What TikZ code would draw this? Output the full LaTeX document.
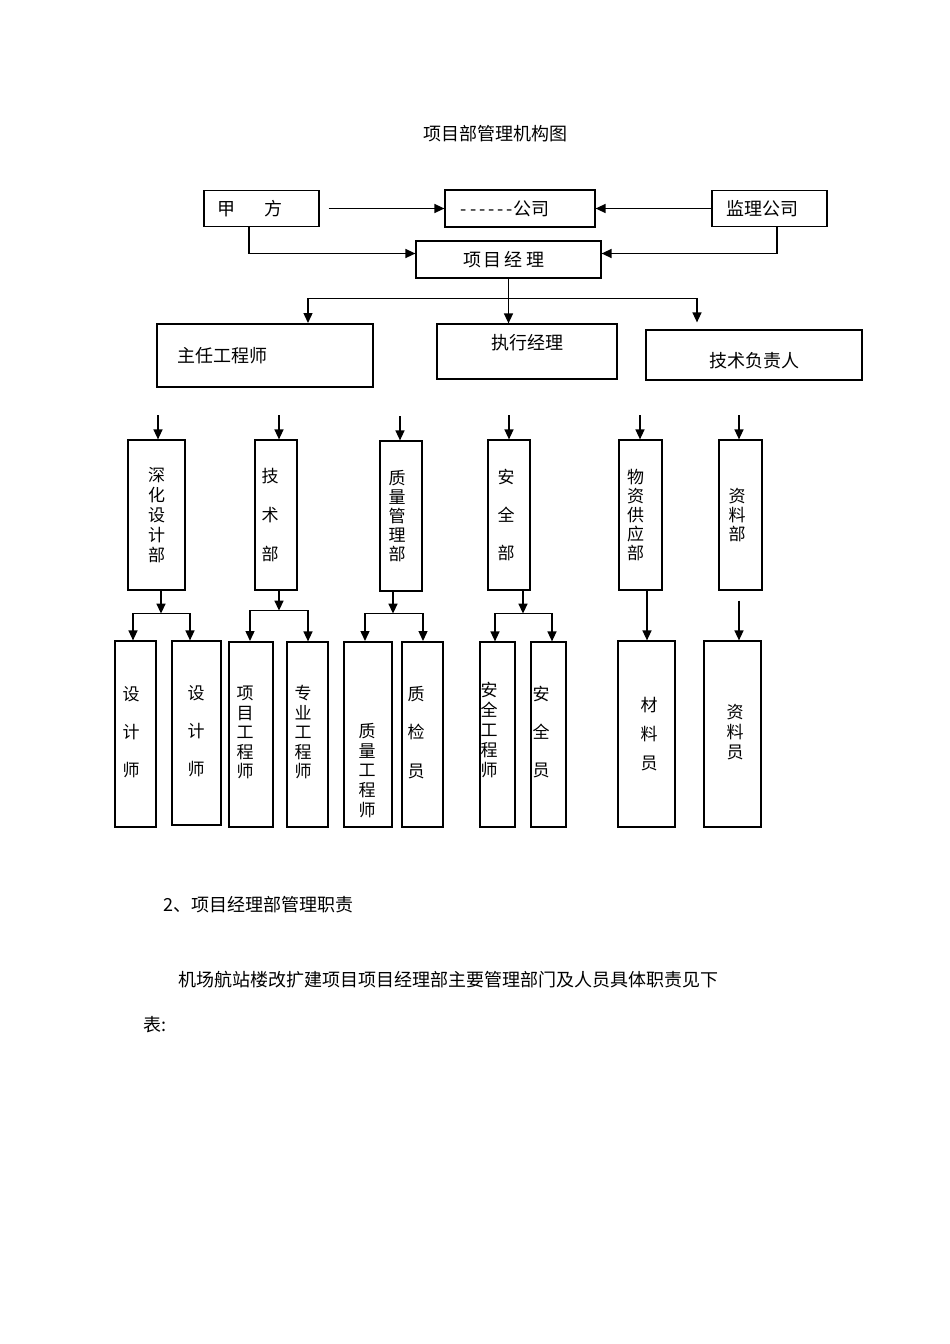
\documentclass[tikz,border=0pt]{standalone}
\usepackage{fontspec}
\setmainfont{Noto Sans CJK SC}
\usetikzlibrary{arrows.meta, positioning}

\tikzset{
  box/.style={rectangle, draw, line width=1.2pt, inner sep=0pt},
  boldbox/.style={box, line width=2pt},
  arr/.style={-{Triangle[length=10pt,width=9pt]}, line width=1.4pt},
  ln/.style={line width=1.4pt},
  hz/.style={font=\fontsize{18}{20}\selectfont},
  vt/.style={align=center, font=\fontsize{17}{#1}\selectfont},
  para/.style={font=\fontsize{18}{20}\selectfont, anchor=west, inner sep=0pt},
}

\begin{document}
\begin{tikzpicture}[x=1pt, y=-1pt]
\useasboundingbox (0,0) rectangle (950,1344);

% title
\node[hz] (title) at (495,134) {项目部管理机构图};

% top row
\node[box, minimum width=115, minimum height=36, label={[hz, xshift=-11.5pt]center:甲\hspace{30pt}方}] (jiafang) at (261.5,208.5) {};
\node[box, minimum width=150, minimum height=37, label={[hz, xshift=-15pt]center:-\,-\,-\,-\,-\,-公司}] (gongsi) at (520,208.5) {};
\node[box, minimum width=115, minimum height=36, label={[hz, xshift=-7pt]center:监理公司}] (jianli) at (769.5,208.5) {};
\node[box, minimum width=185, minimum height=37, label={[hz, xshift=-5pt]center:项\,目\,经\,理}] (xmjl) at (508.5,259.5) {};

\draw[arr, shorten <=9pt] (jiafang) -- (gongsi);
\draw[arr] (jianli) -- (gongsi);
\draw[arr] ([xshift=-12.5pt]jiafang.south) |- ([yshift=6pt]xmjl.west);
\draw[arr] ([xshift=7.5pt]jianli.south) |- ([yshift=6pt]xmjl.east);

% second row
\node[boldbox, minimum width=216, minimum height=63, label={[hz, xshift=-43pt]center:主任工程师}] (zrgcs) at (265,355.5) {};
\node[box, minimum width=180, minimum height=55, label={[hz, yshift=8.5pt]center:执行经理}] (zxjl) at (527,351.5) {};
\node[box, minimum width=216, minimum height=50, label={[hz, yshift=-6pt]center:技术负责人}] (jsfzr) at (754,355) {};

\path (xmjl.south) ++(0,20) coordinate (bus);
\draw[arr] (xmjl.south) -- (xmjl.south |- zxjl.north);
\draw[arr] (bus) -| ([xshift=43pt]zrgcs.north);
\draw[arr, shorten >=7pt] (bus) -| ([xshift=-57pt]jsfzr.north);

% departments
\node[box, minimum width=57, minimum height=150, label={[vt=20]center:深\\化\\设\\计\\部}] (sh) at (156.5,515) {};
\node[box, minimum width=42, minimum height=150, label={[vt=39, xshift=-6pt]center:技\\术\\部}] (js) at (276,515) {};
\node[box, minimum width=42, minimum height=150, label={[vt=19, xshift=-4pt]center:质\\量\\管\\理\\部}] (zl) at (401,516) {};
\node[box, minimum width=42, minimum height=150, label={[vt=38, xshift=-3pt]center:安\\全\\部}] (aq) at (509,515) {};
\node[box, minimum width=43, minimum height=150, label={[vt=19, xshift=-5pt]center:物\\资\\供\\应\\部}] (wz) at (640.5,515) {};
\node[box, minimum width=43, minimum height=150, label={[vt=19, xshift=-3.5pt]center:资\\料\\部}] (zlb) at (740.5,515) {};

\foreach \d/\s in {sh/1.5, js/3, zl/-1, aq/0, wz/-0.5, zlb/-1.5}
  \draw[arr] ([xshift=\s pt, yshift=24pt]\d.north) -- ([xshift=\s pt]\d.north);

% staff
\node[box, minimum width=41, minimum height=186, label={[vt=38, xshift=-4.5pt, yshift=2pt]center:设\\计\\师}] (sj1) at (135.5,734) {};
\node[box, minimum width=49, minimum height=184, label={[vt=38, xshift=-0.5pt, yshift=2pt]center:设\\计\\师}] (sj2) at (196.5,733) {};
\node[boldbox, minimum width=44, minimum height=185, label={[vt=19.5, xshift=-6pt, yshift=2pt]center:项\\目\\工\\程\\师}] (xmgcs) at (251,734.5) {};
\node[box, minimum width=41, minimum height=185, label={[vt=19.5, xshift=-4.5pt, yshift=2pt]center:专\\业\\工\\程\\师}] (zygcs) at (307.5,734.5) {};
\node[boldbox, minimum width=48, minimum height=185, label={[vt=19.75, xshift=-1pt, yshift=-36pt]center:质\\量\\工\\程\\师}] (zlgcs) at (368,734.5) {};
\node[boldbox, minimum width=41, minimum height=185, label={[vt=38.5, xshift=-6.5pt, yshift=2pt]center:质\\检\\员}] (zjy) at (422.5,734.5) {};
\node[box, minimum width=35, minimum height=185, label={[vt=20, xshift=-8.5pt, yshift=4.5pt]center:安\\全\\工\\程\\师}] (aqgcs) at (497.5,734.5) {};
\node[box, minimum width=35, minimum height=185, label={[vt=38, xshift=-7.5pt, yshift=2pt]center:安\\全\\员}] (aqy) at (548.5,734.5) {};
\node[box, minimum width=57, minimum height=186, label={[vt=29, xshift=2.5pt]center:材\\料\\员}] (cly) at (646.5,734) {};
\node[box, minimum width=57, minimum height=186, label={[vt=20, xshift=2.5pt, yshift=2pt]center:资\\料\\员}] (zly) at (732.5,734) {};

\draw[arr] ([xshift=4.5pt]sh.south) -- ++(0,23) coordinate (b1);
\draw[arr] (b1) -| ([xshift=-2.5pt]sj1.north);
\draw[arr] (b1) -| ([xshift=-6.5pt]sj2.north);

\draw[arr] ([xshift=3pt]js.south) -- ++(0,20) coordinate (b2);
\draw[arr] (b2) -| ([xshift=-1pt]xmgcs.north);
\draw[arr] (b2) -| ([xshift=0.5pt]zygcs.north);

\draw[arr] ([xshift=-8pt]zl.south) -- ++(0,22) coordinate (b3);
\draw[arr] (b3) -| ([xshift=-3pt]zlgcs.north);
\draw[arr] (b3) -| ([xshift=0.5pt]zjy.north);

\draw[arr] ([xshift=14pt]aq.south) -- ++(0,23) coordinate (b4);
\draw[arr] (b4) -| ([xshift=-2.5pt]aqgcs.north);
\draw[arr] (b4) -| ([xshift=3.5pt]aqy.north);

\draw[arr] ([xshift=6.5pt]wz.south) -- ([xshift=6.5pt]wz.south |- cly.north);
\draw[arr, shorten <=10pt] ([xshift=-1.5pt]zlb.south) -- ([xshift=-1.5pt]zlb.south |- zly.north);

% text below
\node[para] (sec2) at (163,905) {2、项目经理部管理职责};
\node[para] (body) at (178,980) {机场航站楼改扩建项目项目经理部主要管理部门及人员具体职责见下};
\node[para] (tail) at (143,1025) {表:};
\end{tikzpicture}
\end{document}
